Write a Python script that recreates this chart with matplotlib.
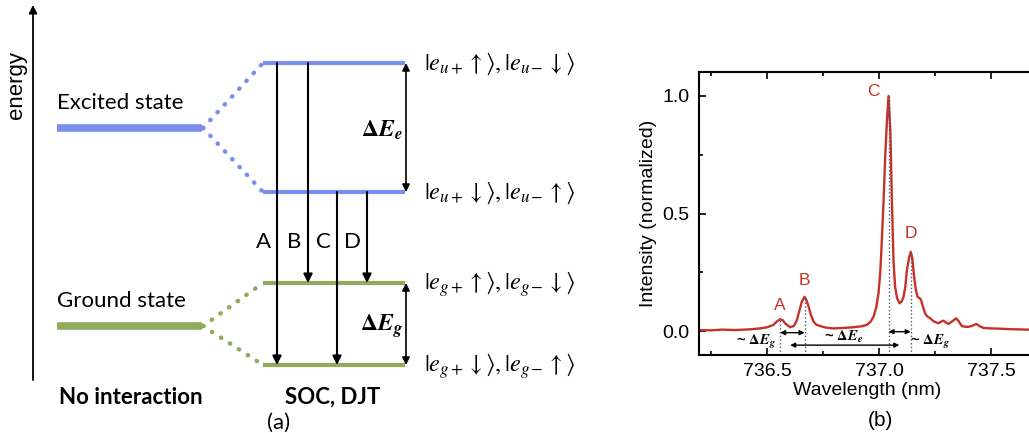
import matplotlib
matplotlib.use("Agg")
import matplotlib.pyplot as plt
from matplotlib.ticker import MultipleLocator

# -------------------------------------------------------------------------
# DATA
# -------------------------------------------------------------------------

# (a) energy levels, in arbitrary energy units (pixel-like scale)
unsplit_names = ["Excited state", "Ground state"]
unsplit_energy = [305, 107]
excited_split = [370, 241]     # |e_u+ up>,|e_u- down>  /  |e_u+ down>,|e_u- up>
ground_split = [150, 68]       # |e_g+ up>,|e_g- down>  /  |e_g+ down>,|e_g- up>
split_labels = [
    r"$|e_{u+}\uparrow\rangle, |e_{u-}\downarrow\rangle$",
    r"$|e_{u+}\downarrow\rangle, |e_{u-}\uparrow\rangle$",
    r"$|e_{g+}\uparrow\rangle, |e_{g-}\downarrow\rangle$",
    r"$|e_{g+}\downarrow\rangle, |e_{g-}\uparrow\rangle$",
]
transitions = ["A", "B", "C", "D"]
trans_from = [370, 370, 241, 241]
trans_to = [68, 150, 68, 150]

# (b) PL spectrum
wavelength = [736.196, 736.25, 736.30, 736.36, 736.42, 736.469, 736.50, 736.528,
              736.545, 736.558, 736.57, 736.58, 736.603, 736.62, 736.633, 736.645,
              736.655, 736.667, 736.676, 736.685, 736.695, 736.707, 736.72, 736.737,
              736.76, 736.795, 736.84, 736.884, 736.92, 736.945, 736.962, 736.975,
              736.987, 736.997, 737.005, 737.012, 737.02, 737.027, 737.035, 737.042,
              737.05, 737.057, 737.064, 737.071, 737.08, 737.091, 737.10, 737.109,
              737.117, 737.124, 737.133, 737.141, 737.148, 737.156, 737.163, 737.171,
              737.179, 737.186, 737.195, 737.205, 737.215, 737.228, 737.245, 737.265,
              737.277, 737.287, 737.298, 737.31, 737.327, 737.344, 737.356, 737.369,
              737.385, 737.399, 737.415, 737.433, 737.45, 737.466, 737.50, 737.54,
              737.58, 737.62, 737.66, 737.70]
intensity = [0.004, 0.003, 0.006, 0.004, 0.007, 0.011, 0.016, 0.026,
             0.042, 0.05, 0.046, 0.033, 0.016, 0.022, 0.047, 0.09,
             0.125, 0.146, 0.13, 0.104, 0.07, 0.04, 0.027, 0.021,
             0.015, 0.011, 0.013, 0.016, 0.02, 0.026, 0.04, 0.061,
             0.1, 0.16, 0.25, 0.387, 0.56, 0.742, 0.9, 1.0,
             0.85, 0.55, 0.3, 0.19, 0.14, 0.118, 0.125, 0.146,
             0.19, 0.26, 0.31, 0.337, 0.31, 0.231, 0.18, 0.146,
             0.14, 0.135, 0.105, 0.075, 0.062, 0.054, 0.04, 0.033,
             0.04, 0.044, 0.036, 0.03, 0.042, 0.054, 0.04, 0.021,
             0.018, 0.018, 0.022, 0.03, 0.02, 0.013, 0.011, 0.01,
             0.008, 0.007, 0.006, 0.006]

peak_names = ["A", "B", "C", "D"]
peak_wl = [736.558, 736.667, 737.042, 737.141]
peak_height = [0.05, 0.146, 1.0, 0.337]

BLUE = "#7a8ef0"
GREEN = "#8fab5c"
RED = "#c4322a"

fig = plt.figure(figsize=(10.29, 4.33), dpi=100)

# -------------------------------------------------------------------------
# PANEL (a): level diagram
# -------------------------------------------------------------------------
ax = fig.add_axes([0, 0, 620 / 1029, 1])
ax.set_xlim(0, 620)
ax.set_ylim(0, 433)
ax.axis("off")

# energy axis
ax.annotate("", xy=(33, 428), xytext=(33, 53),
            arrowprops=dict(arrowstyle="-|>", lw=1.3, color="black",
                            mutation_scale=12, shrinkA=0, shrinkB=0))
ax.text(16, 348, "energy", rotation=90, ha="center", va="center",
        fontsize=16, family="Liberation Sans")

# unsplit levels + dotted splitting connectors
for name, e0, split, col in zip(unsplit_names, unsplit_energy,
                                [excited_split, ground_split], [BLUE, GREEN]):
    ax.plot([57, 202], [e0, e0], color=col, lw=5.5, solid_capstyle="butt")
    ax.text(57, e0 + 25, name, fontsize=16, family="Lato", va="center")
    for es in split:
        ax.plot([203, 263], [e0, es], color=col, lw=3.2,
                linestyle=(0, (0.1, 2.3)), dash_capstyle="round")
        ax.plot([263, 405], [es, es], color=col, lw=3, solid_capstyle="butt")

# state labels on the right
for lab, es in zip(split_labels, excited_split + ground_split):
    ax.text(424, es - 1, lab, fontsize=17.5, math_fontfamily="stix",
            ha="left", va="center")

# transitions
trans_x = [277, 308, 337, 367]
for name, x, e1, e2 in zip(transitions, trans_x, trans_from, trans_to):
    ax.annotate("", xy=(x, e2), xytext=(x, e1),
                arrowprops=dict(arrowstyle="-|>", lw=1.5, color="black",
                                mutation_scale=13, shrinkA=0, shrinkB=0))
    ax.text(x - 14, 191, name, fontsize=16, family="Lato",
            ha="center", va="center")

# splitting double arrows
for pair, sub in [(excited_split, "e"), (ground_split, "g")]:
    ax.annotate("", xy=(406, pair[1]), xytext=(406, pair[0]),
                arrowprops=dict(arrowstyle="<|-|>", lw=1.2, color="black",
                                mutation_scale=11, shrinkA=0, shrinkB=0))
    ax.text(403, (pair[0] + pair[1]) / 2 - 2,
            r"$\mathbf{\Delta}\mathbfit{E}_{\mathbfit{%s}}$" % sub,
            fontsize=17, math_fontfamily="stix", ha="right", va="center")

ax.text(59, 36, "No interaction", fontsize=16, family="Lato",
        fontweight="bold", va="center")
ax.text(333, 36, "SOC, DJT", fontsize=16, family="Lato",
        fontweight="bold", ha="center", va="center")
ax.text(279, 10, "(a)", fontsize=16, family="Lato", ha="center", va="center")

# -------------------------------------------------------------------------
# PANEL (b): spectrum
# -------------------------------------------------------------------------
bx = fig.add_axes([699 / 1029, 78 / 433, 337 / 1029, 283 / 433])
bx.plot(wavelength, intensity, color=RED, lw=1.7)
bx.set_xlim(736.196, 737.70)
bx.set_ylim(-0.102, 1.102)

bx.xaxis.set_major_locator(MultipleLocator(0.5))
bx.xaxis.set_minor_locator(MultipleLocator(0.25))
bx.yaxis.set_major_locator(MultipleLocator(0.5))
bx.yaxis.set_minor_locator(MultipleLocator(0.25))
bx.xaxis.set_major_formatter(plt.FuncFormatter(lambda v, p: f"{v:.1f}"))
bx.yaxis.set_major_formatter(plt.FuncFormatter(lambda v, p: f"{v:.1f}"))
bx.tick_params(which="both", direction="in", top=True, right=True, width=1.2)
bx.tick_params(which="major", length=5)
bx.tick_params(which="minor", length=3)
bx.tick_params(axis="y", pad=7)
bx.tick_params(axis="x", pad=6)
for lbl in bx.get_xticklabels() + bx.get_yticklabels():
    lbl.set_fontsize(14)
    lbl.set_family("Liberation Sans")
for sp in bx.spines.values():
    sp.set_linewidth(1.5)

bx.set_xlabel("Wavelength (nm)", fontsize=14, family="Liberation Sans", labelpad=1)
bx.set_ylabel("Intensity (normalized)", fontsize=14, family="Liberation Sans",
              labelpad=4)

# peak markers and labels
label_off = [(0, 0.06), (0, 0.07), (-0.07, 0.017), (0.002, 0.08)]
for name, x, h, (dx, dy) in zip(peak_names, peak_wl, peak_height, label_off):
    bx.plot([x, x], [-0.102, h], color="#4a5677", lw=1, linestyle=":")
    bx.text(x + dx, h + dy, name, color=RED, fontsize=12.5,
            family="Liberation Sans", ha="center", va="center")

arrow_kw = dict(arrowstyle="<|-|>", lw=1, color="black", mutation_scale=7,
                shrinkA=0, shrinkB=0)
bx.annotate("", xy=(peak_wl[1], -0.007), xytext=(peak_wl[0], -0.007),
            arrowprops=arrow_kw)
bx.annotate("", xy=(peak_wl[3], -0.003), xytext=(peak_wl[2], -0.003),
            arrowprops=arrow_kw)
bx.annotate("", xy=(737.09, -0.06), xytext=(736.603, -0.06),
            arrowprops=arrow_kw)

dtext = r"~ $\mathbf{\Delta}\mathbfit{E}_{\mathbfit{%s}}$"
bx.text(736.45, -0.045, dtext % "g", fontsize=10.5, fontweight="bold",
        family="Liberation Sans", math_fontfamily="stix", ha="center", va="center")
bx.text(736.84, -0.027, dtext % "e", fontsize=10.5, fontweight="bold",
        family="Liberation Sans", math_fontfamily="stix", ha="center", va="center")
bx.text(737.228, -0.045, dtext % "g", fontsize=10.5, fontweight="bold",
        family="Liberation Sans", math_fontfamily="stix", ha="center", va="center")

fig.text(880 / 1029, 1 - 420 / 433, "(b)", fontsize=15,
         family="Liberation Sans", ha="center", va="center")

fig.savefig("out.png", dpi=100)
